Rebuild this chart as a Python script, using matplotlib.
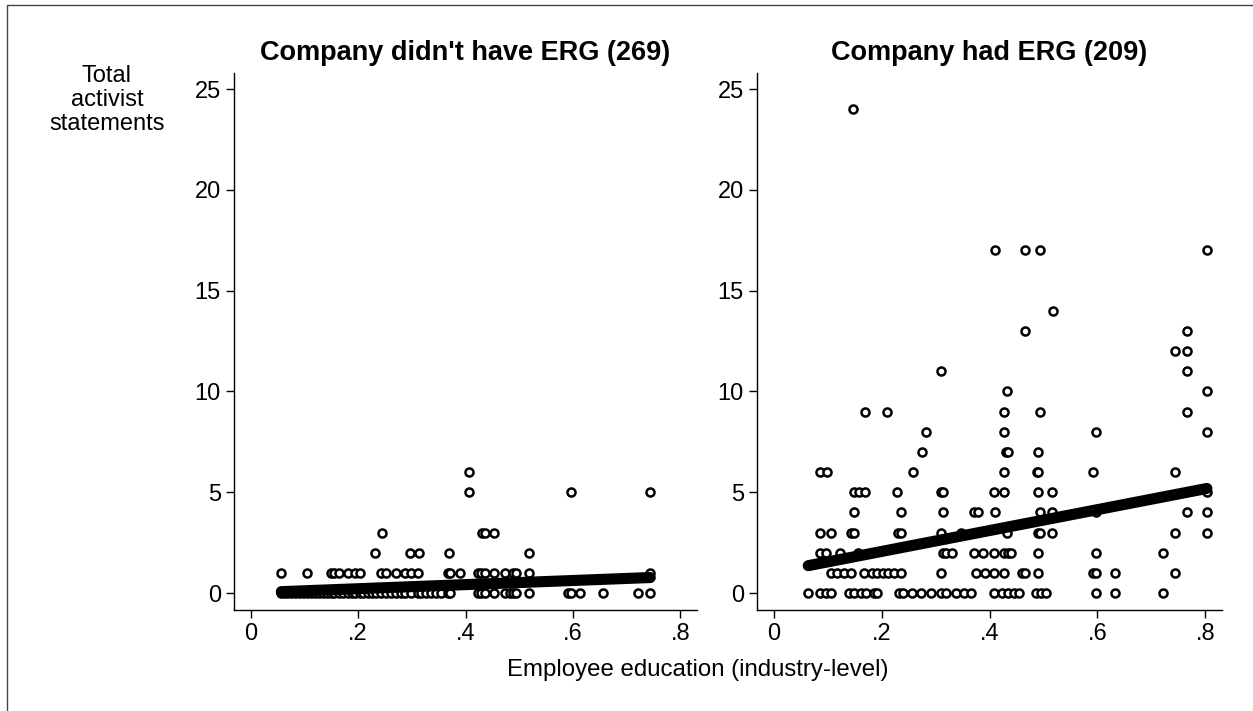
"""
activist statements vs employee education, split by ERG presence
"""
import matplotlib.pyplot as plt
from matplotlib.patches import Rectangle

plt.rcParams['font.family'] = ['Liberation Sans', 'DejaVu Sans']

PANEL_TITLES = ["Company didn't have ERG (269)", "Company had ERG (209)"]
Y_LABEL = 'Total\nactivist\nstatements'
X_LABEL = 'Employee education (industry-level)'
X_TICKS = [0, 0.2, 0.4, 0.6, 0.8]
X_TICK_LABELS = ['0', '.2', '.4', '.6', '.8']
Y_TICKS = [0, 5, 10, 15, 20, 25]

# statement count -> industry education levels of firms with that count
NO_ERG_POINTS = {
    6: [0.407],
    5: [0.407, 0.597, 0.744],
    3: [0.244, 0.431, 0.437, 0.453],
    2: [0.231, 0.297, 0.313, 0.370, 0.518],
    1: [0.057, 0.105, 0.150, 0.156, 0.164, 0.182, 0.194, 0.203, 0.243,
        0.252, 0.271, 0.288, 0.299, 0.311, 0.367, 0.371, 0.389, 0.423,
        0.429, 0.437, 0.453, 0.474, 0.488, 0.494, 0.518, 0.744],
    0: [0.057, 0.062, 0.068, 0.075, 0.082, 0.090, 0.098, 0.105, 0.112,
        0.120, 0.128, 0.135, 0.142, 0.150, 0.156, 0.164, 0.172, 0.182,
        0.188, 0.194, 0.203, 0.210, 0.218, 0.226, 0.234, 0.243, 0.252,
        0.262, 0.271, 0.280, 0.288, 0.299, 0.311, 0.318, 0.326, 0.336,
        0.345, 0.355, 0.367, 0.371, 0.423, 0.429, 0.437, 0.453, 0.474,
        0.482, 0.488, 0.494, 0.518, 0.590, 0.597, 0.613, 0.656, 0.722,
        0.744],
}
ERG_POINTS = {
    24: [0.147],
    17: [0.410, 0.466, 0.493, 0.803],
    14: [0.517],
    13: [0.466, 0.766],
    12: [0.743, 0.766],
    11: [0.311, 0.766],
    10: [0.432, 0.803],
    9: [0.169, 0.210, 0.426, 0.493, 0.766],
    8: [0.283, 0.426, 0.597, 0.803],
    7: [0.274, 0.430, 0.435, 0.490],
    6: [0.086, 0.098, 0.258, 0.426, 0.488, 0.490, 0.592, 0.743],
    5: [0.148, 0.158, 0.169, 0.228, 0.311, 0.313, 0.409, 0.426, 0.490,
        0.516, 0.803],
    4: [0.149, 0.236, 0.313, 0.372, 0.378, 0.410, 0.493, 0.516, 0.597,
        0.766, 0.803],
    3: [0.085, 0.106, 0.143, 0.149, 0.230, 0.236, 0.311, 0.347, 0.432,
        0.490, 0.493, 0.516, 0.743, 0.803],
    2: [0.086, 0.097, 0.122, 0.156, 0.313, 0.319, 0.331, 0.372, 0.388,
        0.409, 0.426, 0.434, 0.439, 0.490, 0.597, 0.721],
    1: [0.106, 0.117, 0.130, 0.143, 0.168, 0.183, 0.192, 0.202, 0.211,
        0.223, 0.236, 0.311, 0.375, 0.391, 0.409, 0.426, 0.461, 0.466,
        0.490, 0.592, 0.597, 0.633, 0.743],
    0: [0.064, 0.086, 0.097, 0.106, 0.140, 0.149, 0.161, 0.171, 0.186,
        0.192, 0.232, 0.239, 0.257, 0.273, 0.291, 0.310, 0.319, 0.338,
        0.353, 0.365, 0.409, 0.424, 0.434, 0.446, 0.455, 0.486, 0.495,
        0.505, 0.597, 0.633, 0.721],
}

# linear fit endpoints
NO_ERG_FIT_X = [0.057, 0.744]
NO_ERG_FIT_Y = [0.07, 0.77]
ERG_FIT_X = [0.064, 0.803]
ERG_FIT_Y = [1.36, 5.19]

W, H = 1253, 711
fig = plt.figure(figsize=(W / 100, H / 100), dpi=100)
fig.add_artist(Rectangle((7 / W, -0.1), 1.2, 1 - 5 / H + 0.1,
                         transform=fig.transFigure, fill=False,
                         edgecolor='#444444', linewidth=1.0))

axes = [fig.add_axes([234 / W, 101 / H, 463 / W, 537 / H]),
        fig.add_axes([757 / W, 101 / H, 465 / W, 537 / H])]

panels = [(NO_ERG_POINTS, NO_ERG_FIT_X, NO_ERG_FIT_Y),
          (ERG_POINTS, ERG_FIT_X, ERG_FIT_Y)]

for ax, title, (points, fit_x, fit_y) in zip(axes, PANEL_TITLES, panels):
    for count, xs in points.items():
        ax.plot(xs, [count] * len(xs), linestyle='none', marker='o',
                markersize=5.8, markerfacecolor='white',
                markeredgecolor='black', markeredgewidth=1.8)
    ax.plot(fit_x, fit_y, color='black', linewidth=8,
            solid_capstyle='round')
    ax.set_xlim(-0.031, 0.831)
    ax.set_ylim(-0.84, 25.8)
    ax.set_xticks(X_TICKS)
    ax.set_xticklabels(X_TICK_LABELS)
    ax.set_yticks(Y_TICKS)
    for side in ['top', 'right']:
        ax.spines[side].set_visible(False)
    for side in ['left', 'bottom']:
        ax.spines[side].set_linewidth(1.0)
    ax.tick_params(direction='out', length=5.5, width=1.0,
                   labelsize=17, pad=4)
    ax.set_title(title, fontsize=19.5, fontweight='bold', pad=9)

fig.text(107 / W, 1 - 100 / H, Y_LABEL, fontsize=17, ha='center',
         va='center', multialignment='center', linespacing=1.14)
fig.text(698 / W, 1 - 670 / H, X_LABEL, fontsize=17.3, ha='center',
         va='center')

plt.savefig('out.png', dpi=100)
plt.close()
